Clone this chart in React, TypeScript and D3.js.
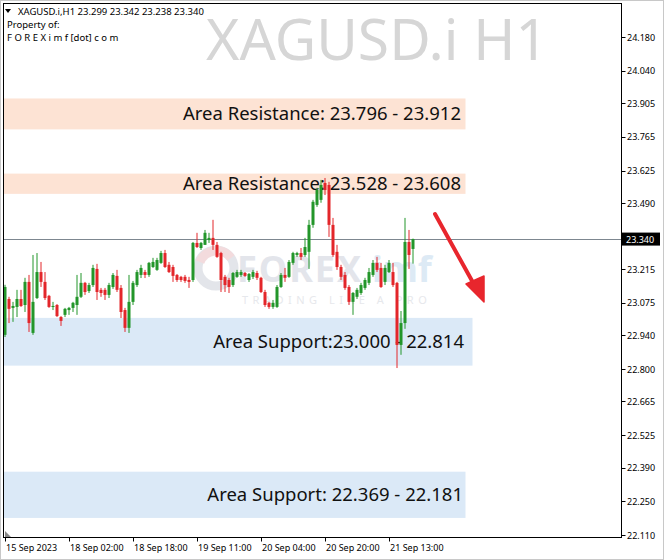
import React from 'react';
import * as d3 from 'd3';

// ---- data ----
const OPEN = [
  22.942, 23.091, 23.054, 23.058, 23.091, 23.066, 23.162, 22.950, 23.095, 23.203,
  23.162, 23.104, 23.058, 23.066, 23.016, 23.025, 23.045, 23.054, 23.066, 23.100,
  23.158, 23.124, 23.149, 23.216, 23.129, 23.129, 23.108, 23.141, 23.187, 23.137,
  23.045, 22.971, 23.079, 23.149, 23.191, 23.203, 23.191, 23.224, 23.212, 23.241,
  23.282, 23.233, 23.224, 23.191, 23.183, 23.183, 23.170, 23.170, 23.324, 23.303,
  23.316, 23.336, 23.345, 23.316, 23.282, 23.183, 23.170, 23.149, 23.183, 23.191,
  23.199, 23.170, 23.183, 23.199, 23.179, 23.120, 23.075, 23.058, 23.058, 23.141,
  23.191, 23.183, 23.241, 23.274, 23.282, 23.274, 23.287, 23.399, 23.482, 23.503,
  23.573, 23.565, 23.399, 23.287, 23.224, 23.191, 23.141, 23.079, 23.100, 23.116,
  23.137, 23.158, 23.191, 23.241, 23.220, 23.162, 23.203, 23.203, 23.158, 22.900,
  22.991, 23.328, 23.299,
];
const HIGH = [
  23.150, 23.100, 23.079, 23.129, 23.129, 23.179, 23.191, 23.274, 23.282, 23.245,
  23.203, 23.108, 23.079, 23.070, 23.020, 23.054, 23.058, 23.079, 23.191, 23.199,
  23.162, 23.158, 23.233, 23.237, 23.137, 23.137, 23.158, 23.199, 23.212, 23.149,
  23.054, 23.191, 23.166, 23.212, 23.233, 23.212, 23.245, 23.262, 23.262, 23.291,
  23.295, 23.245, 23.233, 23.195, 23.187, 23.191, 23.183, 23.328, 23.366, 23.328,
  23.378, 23.366, 23.420, 23.328, 23.287, 23.191, 23.179, 23.203, 23.212, 23.212,
  23.203, 23.199, 23.212, 23.208, 23.183, 23.129, 23.079, 23.087, 23.149, 23.199,
  23.220, 23.253, 23.287, 23.287, 23.303, 23.345, 23.420, 23.503, 23.553, 23.586,
  23.594, 23.578, 23.428, 23.316, 23.233, 23.203, 23.149, 23.120, 23.137, 23.158,
  23.179, 23.220, 23.253, 23.266, 23.241, 23.233, 23.253, 23.241, 23.162, 23.041,
  23.428, 23.378, 23.342,
];
const LOW = [
  22.933, 22.991, 22.996, 23.016, 23.058, 23.037, 22.954, 22.942, 23.091, 23.141,
  23.087, 23.054, 23.045, 23.016, 22.979, 23.016, 23.025, 23.037, 23.025, 23.095,
  23.108, 23.116, 23.141, 23.087, 23.100, 23.087, 23.095, 23.133, 23.120, 23.012,
  22.954, 22.950, 23.066, 23.141, 23.178, 23.178, 23.183, 23.220, 23.208, 23.237,
  23.220, 23.199, 23.162, 23.162, 23.162, 23.158, 23.137, 23.162, 23.303, 23.295,
  23.316, 23.324, 23.295, 23.262, 23.120, 23.120, 23.116, 23.141, 23.179, 23.183,
  23.183, 23.162, 23.174, 23.170, 23.116, 23.058, 23.050, 23.050, 23.054, 23.137,
  23.162, 23.179, 23.233, 23.266, 23.253, 23.266, 23.216, 23.387, 23.474, 23.491,
  23.523, 23.349, 23.266, 23.212, 23.170, 23.129, 23.066, 23.025, 23.091, 23.108,
  23.129, 23.149, 23.183, 23.203, 23.137, 23.149, 23.199, 23.141, 22.804, 22.859,
  22.967, 23.216, 23.238,
];
const CLOSE = [
  23.141, 23.050, 23.062, 23.091, 23.062, 23.162, 22.991, 23.079, 23.203, 23.162,
  23.095, 23.058, 23.062, 23.020, 23.000, 23.050, 23.054, 23.075, 23.100, 23.158,
  23.120, 23.149, 23.220, 23.120, 23.116, 23.108, 23.149, 23.191, 23.129, 23.037,
  22.971, 23.079, 23.158, 23.203, 23.220, 23.191, 23.241, 23.245, 23.253, 23.282,
  23.224, 23.203, 23.187, 23.170, 23.170, 23.166, 23.162, 23.324, 23.307, 23.324,
  23.366, 23.345, 23.316, 23.266, 23.170, 23.149, 23.141, 23.199, 23.203, 23.203,
  23.187, 23.195, 23.203, 23.179, 23.120, 23.066, 23.058, 23.075, 23.141, 23.191,
  23.179, 23.245, 23.282, 23.282, 23.266, 23.307, 23.399, 23.495, 23.544, 23.565,
  23.544, 23.399, 23.274, 23.224, 23.183, 23.137, 23.079, 23.116, 23.129, 23.149,
  23.170, 23.203, 23.241, 23.212, 23.141, 23.220, 23.241, 23.149, 22.900, 22.991,
  23.328, 23.274, 23.340,
];

const PRICE_TICKS = [24.18, 24.04, 23.905, 23.765, 23.625, 23.49, 23.215, 23.075, 22.94, 22.8, 22.665, 22.525, 22.39, 22.25, 22.11];
const TIME_LABELS = ['15 Sep 2023', '18 Sep 02:00', '18 Sep 18:00', '19 Sep 11:00', '20 Sep 04:00', '20 Sep 20:00', '21 Sep 13:00'];
const TIME_INDEX = [0, 16, 32, 48, 64, 80, 96];

const ZONE_TEXT = ['Area Resistance: 23.796 - 23.912', 'Area Resistance: 23.528 - 23.608', 'Area Support:23.000 - 22.814', 'Area Support: 22.369 - 22.181'];
const ZONE_LOW = [23.796, 23.528, 22.814, 22.181];
const ZONE_HIGH = [23.912, 23.608, 23.0, 22.369];
const ZONE_KIND = ['res', 'res', 'sup', 'sup'];

const LAST_PRICE = 23.34;
const HEADER = 'XAGUSD.i,H1  23.299 23.342 23.238 23.340';

// ---- layout ----
const W = 664, H = 560;
const PL = 3.5, PT = 3.5, PR = 621.5, PB = 537.5;
const FONT = '"Noto Sans", "Open Sans", sans-serif';
const GREEN = '#23962a';
const RED = '#e3262a';

export default function App() {
  const y = d3.scaleLinear().domain([22.11, 24.18]).range([535, 37]);
  const x = d3.scaleLinear().domain([0, OPEN.length - 1]).range([5, 413]);
  const zoneRight = [465, 465, 472, 465];
  const zoneTextX = [461, 461, 464, 463];
  const pad = [3, 1, 3, 1];

  return (
    <svg width={W} height={H} style={{ position: 'fixed', left: 0, top: 0, background: '#fff' }} fontFamily={FONT}>
      <rect x={0} y={0} width={W} height={H} fill="#fff" />
      <rect x={0.5} y={0.5} width={W - 1} height={H - 1} fill="none" stroke="#c8c8c8" />

      {/* zones */}
      {ZONE_TEXT.map((t, i) => (
        <rect key={'z' + i} x={PL + 0.5} y={y(ZONE_HIGH[i]) - pad[i]} width={zoneRight[i] - PL} height={y(ZONE_LOW[i]) - y(ZONE_HIGH[i]) + pad[i]}
          fill={ZONE_KIND[i] === 'res' ? '#fde3d4' : '#dbe9f7'} />
      ))}

      {/* big symbol watermark */}
      <text x={206} y={60} fontSize={57} fill="#d6d6d6" fontFamily={FONT}>XAGUSD.i H1</text>

      {/* logo watermark */}
      <g opacity={0.5}>
        <circle cx={216} cy={268} r={18} fill="none" stroke="#c9ccd6" strokeWidth={9} />
        <path d="M 200 262 A 18 18 0 0 1 231 258" fill="none" stroke="#e8b8bd" strokeWidth={9} />
        <text x={237} y={282} fontSize={36} fontWeight={700} fill="#c8ccd8" letterSpacing={2}>FOREX</text>
        <text x={372} y={282} fontSize={36} fontWeight={700} fill="#bcd6ec">imf</text>
        <text x={242} y={304} fontSize={11} fill="#cfd2da" letterSpacing={4.5}>TRADING LIKE A PRO</text>
      </g>

      {/* zone labels */}
      {ZONE_TEXT.map((t, i) => (
        <text key={'zt' + i} x={zoneTextX[i]} y={(y(ZONE_HIGH[i]) - pad[i] + y(ZONE_LOW[i])) / 2 + 6.5} fontSize={18.5} textAnchor="end" fill="#111">{t}</text>
      ))}

      {/* last price line */}
      <line x1={PL} x2={PR} y1={Math.round(y(LAST_PRICE)) + 0.5} y2={Math.round(y(LAST_PRICE)) + 0.5} stroke="#7d8790" strokeWidth={1} />

      {/* candles */}
      {OPEN.map((o, i) => {
        const c = CLOSE[i];
        const up = c >= o;
        const col = up ? GREEN : RED;
        const cx = x(i);
        const top = y(Math.max(o, c));
        const bot = y(Math.min(o, c));
        return (
          <g key={'c' + i}>
            <line x1={cx} x2={cx} y1={y(HIGH[i])} y2={y(LOW[i])} stroke={col} strokeWidth={1} />
            <rect x={cx - 1.5} y={top} width={3} height={Math.max(1, bot - top)} fill={col} />
          </g>
        );
      })}

      {/* arrow */}
      <line x1={435} y1={214} x2={476} y2={288} stroke="#e8262d" strokeWidth={4} strokeLinecap="round" />
      <path d="M 484 302 L 466 284 L 484 276 Z" fill="#e8262d" stroke="#e8262d" strokeWidth={1.5} strokeLinejoin="round" />

      {/* frame */}
      <rect x={PL} y={PT} width={PR - PL} height={PB - PT} fill="none" stroke="#000" strokeWidth={1} />

      {/* header */}
      <path d="M 5 9 L 11 9 L 8 13 Z" fill="#000" />
      <text x={18} y={15} fontSize={9.5} fill="#000">{HEADER}</text>
      <text x={7} y={28} fontSize={9.5} fill="#000">Property of:</text>
      <text x={7} y={41} fontSize={9.5} fill="#000">F O R E X i m f [dot] c o m</text>

      {/* right axis */}
      {PRICE_TICKS.map((p, i) => (
        <g key={'pt' + i}>
          <line x1={PR} x2={PR + 4} y1={Math.round(y(p)) + 0.5} y2={Math.round(y(p)) + 0.5} stroke="#000" />
          <text x={627} y={y(p) + 3.5} fontSize={9} fill="#000">{p.toFixed(3)}</text>
        </g>
      ))}
      <rect x={622} y={y(LAST_PRICE) - 6.5} width={38} height={13} fill="#000" />
      <text x={626} y={y(LAST_PRICE) + 3.5} fontSize={9} fill="#fff">{LAST_PRICE.toFixed(3)}</text>

      {/* bottom axis */}
      {TIME_LABELS.map((t, i) => (
        <g key={'tl' + i}>
          <line x1={Math.round(x(TIME_INDEX[i])) + 0.5} x2={Math.round(x(TIME_INDEX[i])) + 0.5} y1={PB} y2={PB + 4} stroke="#000" />
          <text x={x(TIME_INDEX[i]) + 1} y={551} fontSize={9} fill="#000">{t}</text>
        </g>
      ))}
      <path d="M 5 531 L 5 537 L 11 537 Z" fill="#888" />
    </svg>
  );
}
